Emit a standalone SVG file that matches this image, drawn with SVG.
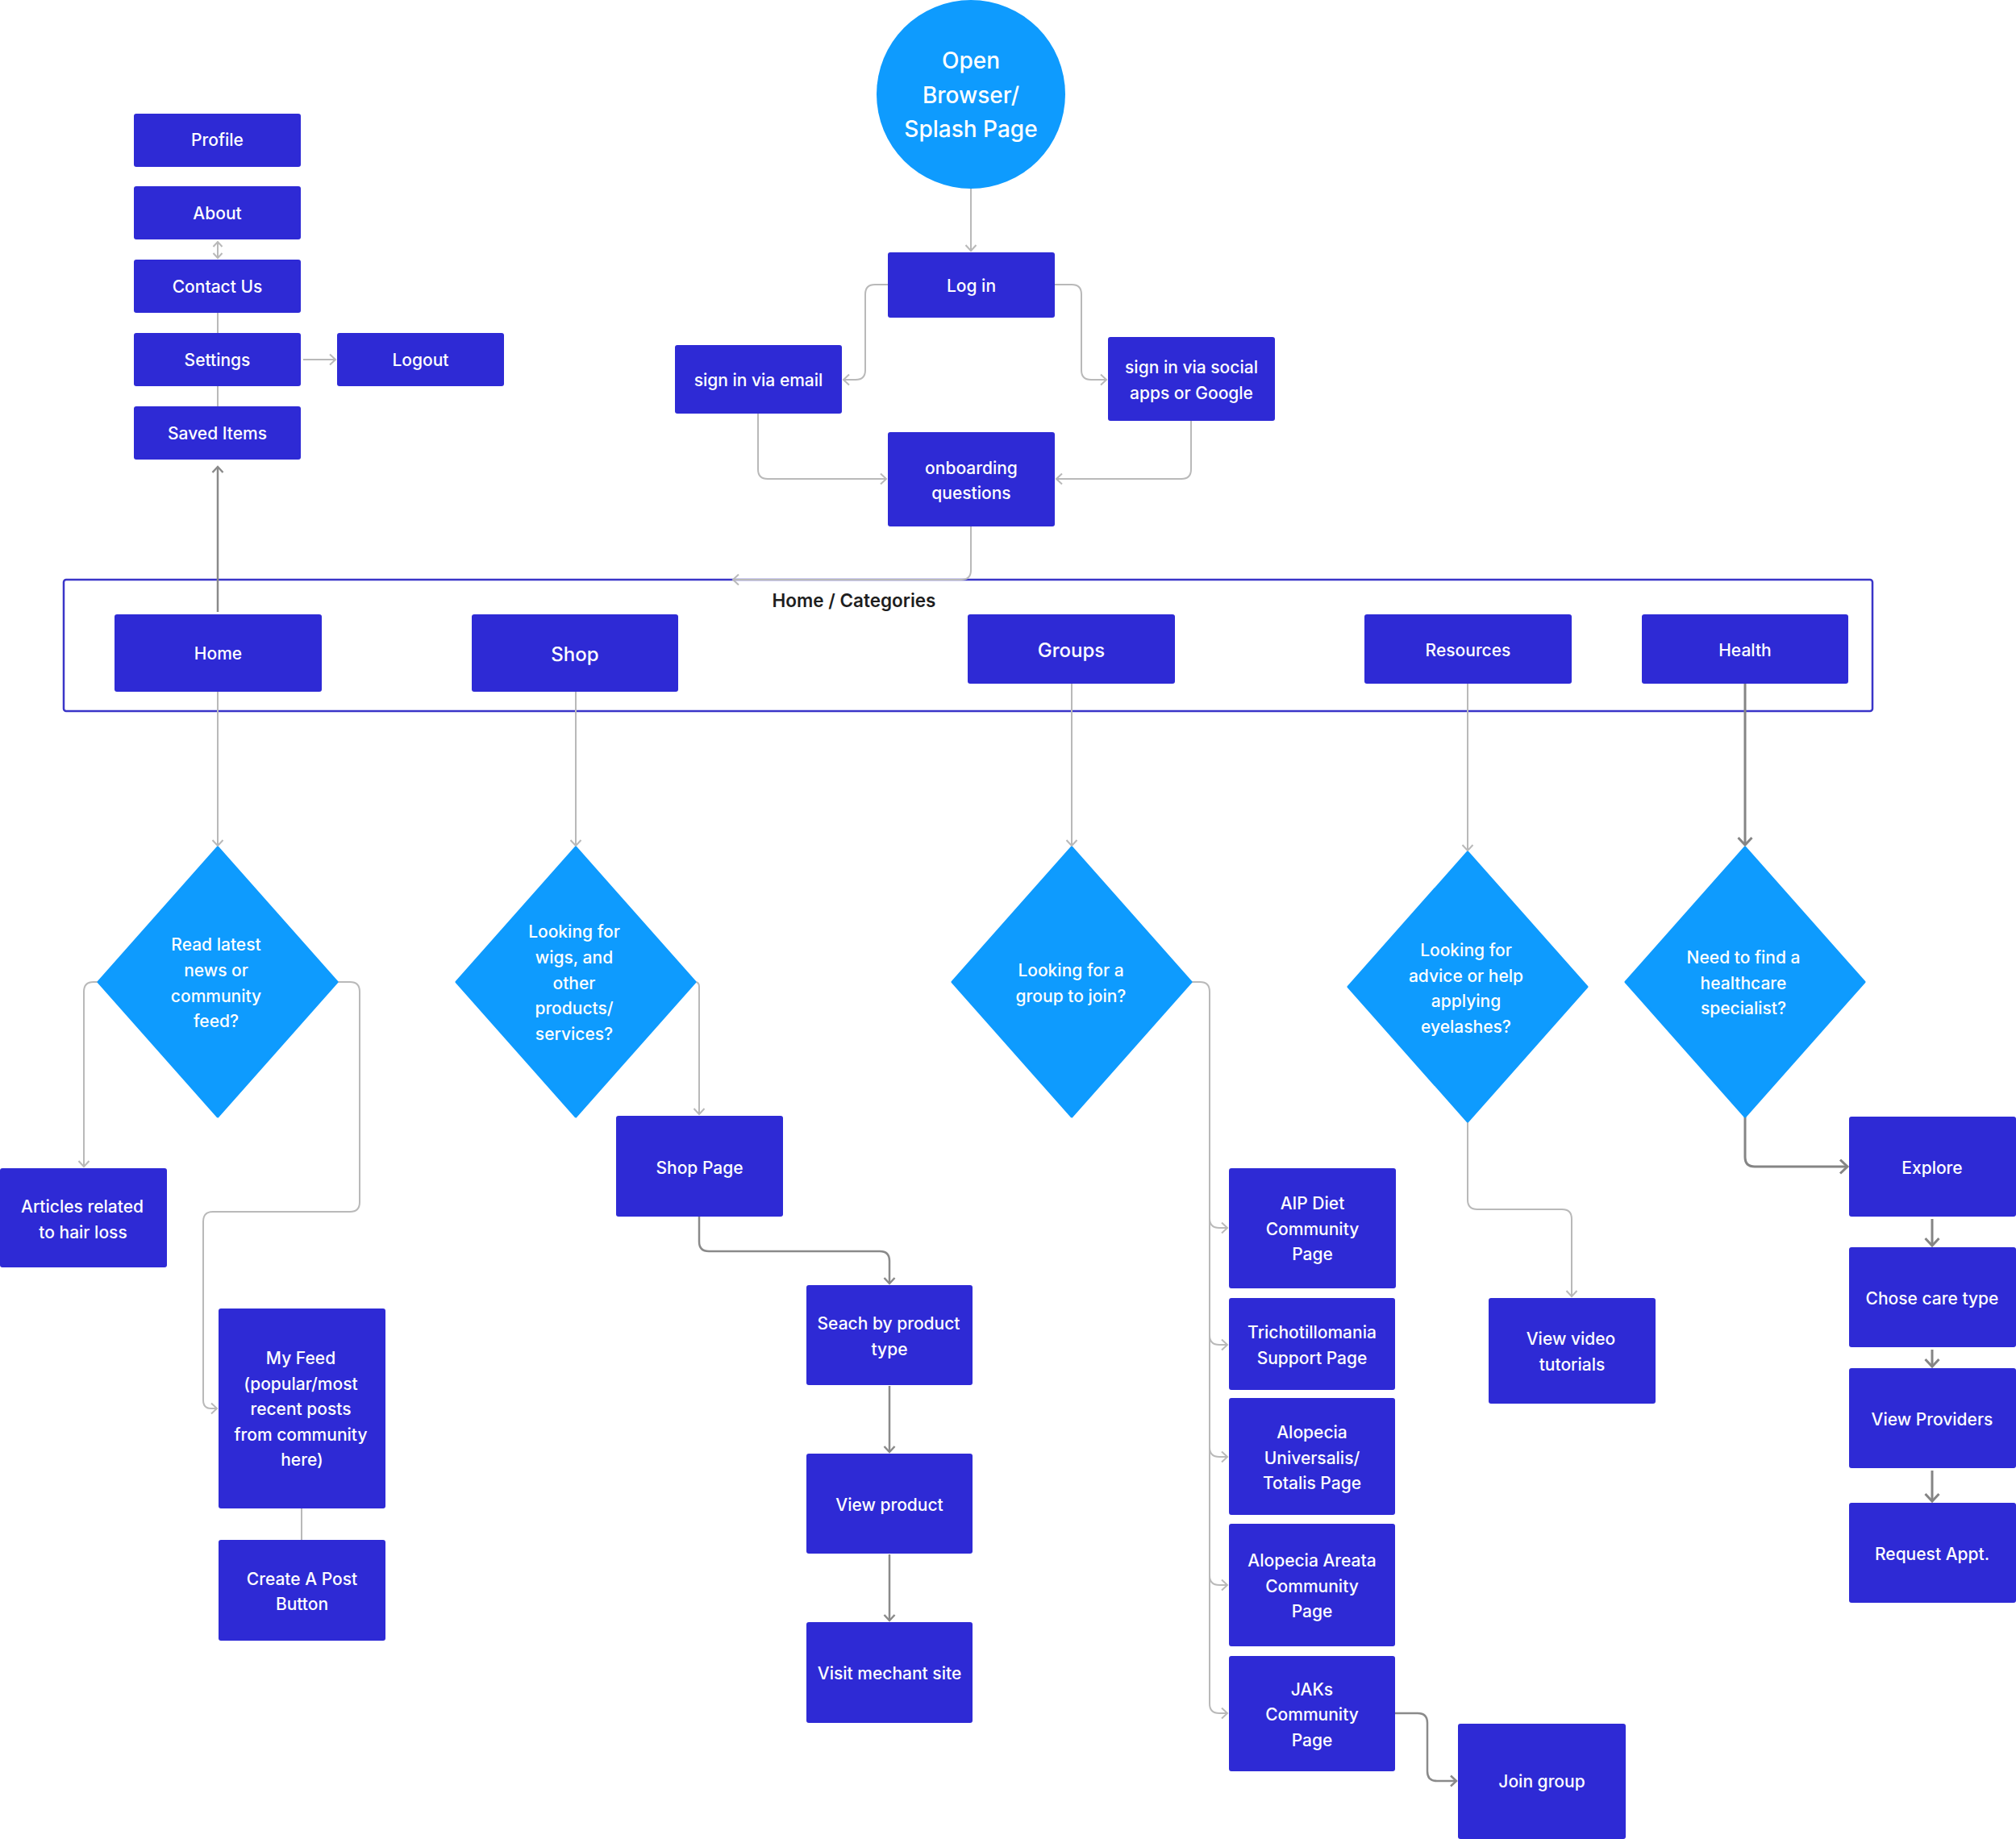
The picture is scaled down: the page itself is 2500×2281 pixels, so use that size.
<svg xmlns="http://www.w3.org/2000/svg" width="2500" height="2281" viewBox="0 0 2500 2281">
<style>
.box{fill:#2E2AD5;}
.dia{fill:#0E9BFE;}
.t{font-family:Inter,"Noto Sans","Liberation Sans",sans-serif;font-size:21px;font-weight:500;fill:#ffffff;text-anchor:middle;}
.t24{font-size:24px;}
.t28{font-size:28px;}
.dark{fill:#1E1E1E;font-size:22.5px;font-weight:600;}
.cl{fill:none;stroke:#B9B9B9;stroke-width:2;}
.cd{fill:none;stroke:#8A8A8A;stroke-width:2.5;}
.cdd{fill:none;stroke:#858585;stroke-width:3;}
.al{marker-end:url(#al);}
.ad{marker-end:url(#ad);}
.add{marker-end:url(#add);}
</style>
<defs>
<marker id="al" viewBox="-10 -8 12 16" markerWidth="12" markerHeight="16" refX="0" refY="0" orient="auto" markerUnits="userSpaceOnUse" overflow="visible">
<path d="M-7,-6.5 L0,0 L-7,6.5" fill="none" stroke="#B9B9B9" stroke-width="2"/>
</marker>
<marker id="als" viewBox="-10 -8 12 16" markerWidth="12" markerHeight="16" refX="0" refY="0" orient="auto-start-reverse" markerUnits="userSpaceOnUse" overflow="visible">
<path d="M-6,-5.5 L0,0 L-6,5.5" fill="none" stroke="#B9B9B9" stroke-width="2"/>
</marker>
<marker id="ad" viewBox="-10 -8 12 16" markerWidth="12" markerHeight="16" refX="0" refY="0" orient="auto" markerUnits="userSpaceOnUse" overflow="visible">
<path d="M-7,-6.5 L0,0 L-7,6.5" fill="none" stroke="#8A8A8A" stroke-width="2.5"/>
</marker>
<marker id="add" viewBox="-12 -10 14 20" markerWidth="14" markerHeight="20" refX="0" refY="0" orient="auto" markerUnits="userSpaceOnUse" overflow="visible">
<path d="M-9,-8.5 L0,0 L-9,8.5" fill="none" stroke="#858585" stroke-width="3"/>
</marker>
</defs>
<rect x="0" y="0" width="2500" height="2281" fill="#ffffff"/>

<g id="container">
<rect x="79" y="719" width="2243" height="163" rx="3" fill="none" stroke="#3A35C8" stroke-width="2.5"/>
<text class="t dark" x="1059" y="753">Home / Categories</text>
</g>

<g id="connectors">
<path class="cl al" d="M1204,234 V311"/>
<path class="cl al" d="M1101,353 H1085 Q1073,353 1073,365 V459 Q1073,471 1061,471 H1046"/>
<path class="cl al" d="M1308,353 H1329 Q1341,353 1341,365 V459 Q1341,471 1353,471 H1372"/>
<path class="cl al" d="M940,513 V582 Q940,594 952,594 H1099"/>
<path class="cl al" d="M1477,522 V582 Q1477,594 1465,594 H1310"/>
<path class="cl al" d="M1204,653 V707 Q1204,719 1192,719 H909"/>
<path class="cl" d="M270,300 V320" marker-start="url(#als)" marker-end="url(#als)"/>
<path class="cl" d="M270,388 V413"/>
<path class="cl" d="M270,479 V504"/>
<path class="cl al" d="M376,446 H416"/>
<path class="cd ad" d="M270,759 V579"/>
<path class="cl al" d="M270,858 V1049"/>
<path class="cl al" d="M714,858 V1049"/>
<path class="cl al" d="M1329,848 V1049"/>
<path class="cl al" d="M1820,848 V1055"/>
<path class="cdd add" d="M2164,848 V1048"/>
<path class="cl al" d="M122,1218 H116 Q104,1218 104,1230 V1447"/>
<path class="cl al" d="M418,1218 H434 Q446,1218 446,1230 V1491 Q446,1503 434,1503 H264 Q252,1503 252,1515 V1737 Q252,1747 262,1747 H269"/>
<path class="cl" d="M374,1871 V1910"/>
<path class="cl al" d="M862,1218 Q867,1218 867,1224 V1382"/>
<path class="cd ad" d="M867,1509 V1540 Q867,1552 879,1552 H1091 Q1103,1552 1103,1564 V1592"/>
<path class="cd ad" d="M1103,1719 V1801"/>
<path class="cd ad" d="M1103,1928 V2010"/>
<path class="cl al" d="M1477,1218 H1488 Q1500,1218 1500,1230 V2113 Q1500,2125 1512,2125 H1522"/>
<path class="cl al" d="M1500,1511 Q1500,1523 1512,1523 H1522"/>
<path class="cl al" d="M1500,1656 Q1500,1668 1512,1668 H1522"/>
<path class="cl al" d="M1500,1795 Q1500,1807 1512,1807 H1522"/>
<path class="cl al" d="M1500,1954 Q1500,1966 1512,1966 H1522"/>
<path class="cd ad" d="M1730,2125 H1758 Q1770,2125 1770,2137 V2197 Q1770,2209 1782,2209 H1806"/>
<path class="cl al" d="M1820,1391 V1488 Q1820,1500 1832,1500 H1937 Q1949,1500 1949,1512 V1608"/>
<path class="cdd add" d="M2164,1385 V1435 Q2164,1447 2176,1447 H2291"/>
<path class="cdd add" d="M2396,1512 V1545"/>
<path class="cdd add" d="M2396,1674 V1695"/>
<path class="cdd add" d="M2396,1824 V1862"/>
</g>

<g id="splash">
<circle cx="1204" cy="117" r="117" fill="#0E9BFE"/>
<text class="t t28" x="1204"><tspan x="1204" y="85">Open</tspan><tspan x="1204" y="128">Browser/</tspan><tspan x="1204" y="170">Splash Page</tspan></text>
</g>

<g id="profile"><rect class="box" x="166" y="141" width="207" height="66" rx="3"/><text class="t" x="269.5" y="181">Profile</text></g>
<g id="about"><rect class="box" x="166" y="231" width="207" height="66" rx="3"/><text class="t" x="269.5" y="272">About</text></g>
<g id="contact"><rect class="box" x="166" y="322" width="207" height="66" rx="3"/><text class="t" x="269.5" y="363">Contact Us</text></g>
<g id="settings"><rect class="box" x="166" y="413" width="207" height="66" rx="3"/><text class="t" x="269.5" y="454">Settings</text></g>
<g id="saved"><rect class="box" x="166" y="504" width="207" height="66" rx="3"/><text class="t" x="269.5" y="545">Saved Items</text></g>
<g id="logout"><rect class="box" x="418" y="413" width="207" height="66" rx="3"/><text class="t" x="521.5" y="454">Logout</text></g>

<g id="login"><rect class="box" x="1101" y="313" width="207" height="81" rx="3"/><text class="t" x="1204.5" y="361.5">Log in</text></g>
<g id="email"><rect class="box" x="837" y="428" width="207" height="85" rx="3"/><text class="t" x="940.5" y="478.5">sign in via email</text></g>
<g id="social"><rect class="box" x="1374" y="418" width="207" height="104" rx="3"/><text class="t"><tspan x="1477.5" y="462.5">sign in via social</tspan><tspan x="1477.5" y="494.5">apps or Google</tspan></text></g>
<g id="onboarding"><rect class="box" x="1101" y="536" width="207" height="117" rx="3"/><text class="t"><tspan x="1204.5" y="587.5">onboarding</tspan><tspan x="1204.5" y="618.5">questions</tspan></text></g>

<g id="home"><rect class="box" x="142" y="762" width="257" height="96" rx="3"/><text class="t" x="270.5" y="818">Home</text></g>
<g id="shop"><rect class="box" x="585" y="762" width="256" height="96" rx="3"/><text class="t t24" x="713" y="819.6">Shop</text></g>
<g id="groups"><rect class="box" x="1200" y="762" width="257" height="86" rx="3"/><text class="t t24" x="1328.5" y="815">Groups</text></g>
<g id="resources"><rect class="box" x="1692" y="762" width="257" height="86" rx="3"/><text class="t" x="1820.5" y="814">Resources</text></g>
<g id="health"><rect class="box" x="2036" y="762" width="256" height="86" rx="3"/><text class="t" x="2164" y="814">Health</text></g>

<g id="d-home"><path class="dia" d="M270,1051 L418,1218 L270,1385 L122,1218 Z" stroke="#0E9BFE" stroke-width="3" stroke-linejoin="round"/>
<text class="t"><tspan x="268" y="1178.6">Read latest</tspan><tspan x="268" y="1210.6">news or</tspan><tspan x="268" y="1242.6">community</tspan><tspan x="268" y="1273.6">feed?</tspan></text></g>
<g id="d-shop"><path class="dia" d="M714,1051 L862,1218 L714,1385 L566,1218 Z" stroke="#0E9BFE" stroke-width="3" stroke-linejoin="round"/>
<text class="t"><tspan x="712" y="1162.6">Looking for</tspan><tspan x="712" y="1194.6">wigs, and</tspan><tspan x="712" y="1226.6">other</tspan><tspan x="712" y="1257.6">products/</tspan><tspan x="712" y="1289.6">services?</tspan></text></g>
<g id="d-groups"><path class="dia" d="M1329,1051 L1477,1218 L1329,1385 L1181,1218 Z" stroke="#0E9BFE" stroke-width="3" stroke-linejoin="round"/>
<text class="t"><tspan x="1328" y="1210.6">Looking for a</tspan><tspan x="1328" y="1242.6">group to join?</tspan></text></g>
<g id="d-resources"><path class="dia" d="M1820,1057 L1968,1224 L1820,1391 L1672,1224 Z" stroke="#0E9BFE" stroke-width="3" stroke-linejoin="round"/>
<text class="t"><tspan x="1818" y="1185.6">Looking for</tspan><tspan x="1818" y="1217.6">advice or help</tspan><tspan x="1818" y="1248.6">applying</tspan><tspan x="1818" y="1280.6">eyelashes?</tspan></text></g>
<g id="d-health"><path class="dia" d="M2164,1051 L2312,1218 L2164,1385 L2016,1218 Z" stroke="#0E9BFE" stroke-width="3" stroke-linejoin="round"/>
<text class="t"><tspan x="2162" y="1194.6">Need to find a</tspan><tspan x="2162" y="1226.6">healthcare</tspan><tspan x="2162" y="1257.6">specialist?</tspan></text></g>

<g id="articles"><rect class="box" x="0" y="1449" width="207" height="123" rx="3"/><text class="t"><tspan x="102" y="1503.6">Articles related</tspan><tspan x="103" y="1535.6">to hair loss</tspan></text></g>
<g id="myfeed"><rect class="box" x="271" y="1623" width="207" height="248" rx="3"/><text class="t"><tspan x="373" y="1691.6">My Feed</tspan><tspan x="373" y="1723.6">(popular/most</tspan><tspan x="373" y="1754.6">recent posts</tspan><tspan x="373" y="1786.6">from community</tspan><tspan x="374.5" y="1817.6">here)</tspan></text></g>
<g id="createpost"><rect class="box" x="271" y="1910" width="207" height="125" rx="3"/><text class="t"><tspan x="374.5" y="1965.6">Create A Post</tspan><tspan x="374.5" y="1996.6">Button</tspan></text></g>

<g id="shoppage"><rect class="box" x="764" y="1384" width="207" height="125" rx="3"/><text class="t" x="867.5" y="1455.6">Shop Page</text></g>
<g id="search"><rect class="box" x="1000" y="1594" width="206" height="124" rx="3"/><text class="t"><tspan x="1102" y="1648.6">Seach by product</tspan><tspan x="1103" y="1680.6">type</tspan></text></g>
<g id="viewproduct"><rect class="box" x="1000" y="1803" width="206" height="124" rx="3"/><text class="t" x="1103" y="1873.6">View product</text></g>
<g id="visit"><rect class="box" x="1000" y="2012" width="206" height="125" rx="3"/><text class="t" x="1103" y="2082.6">Visit mechant site</text></g>

<g id="aip"><rect class="box" x="1524" y="1449" width="207" height="149" rx="3"/><text class="t"><tspan x="1627.5" y="1499.6">AIP Diet</tspan><tspan x="1627.5" y="1531.6">Community</tspan><tspan x="1627.5" y="1562.6">Page</tspan></text></g>
<g id="tricho"><rect class="box" x="1524" y="1610" width="206" height="114" rx="3"/><text class="t"><tspan x="1627" y="1659.6">Trichotillomania</tspan><tspan x="1627" y="1691.6">Support Page</tspan></text></g>
<g id="au"><rect class="box" x="1524" y="1734" width="206" height="145" rx="3"/><text class="t"><tspan x="1627" y="1783.6">Alopecia</tspan><tspan x="1627" y="1815.6">Universalis/</tspan><tspan x="1627" y="1846.6">Totalis Page</tspan></text></g>
<g id="aa"><rect class="box" x="1524" y="1890" width="206" height="152" rx="3"/><text class="t"><tspan x="1627" y="1942.6">Alopecia Areata</tspan><tspan x="1627" y="1974.6">Community</tspan><tspan x="1627" y="2005.6">Page</tspan></text></g>
<g id="jaks"><rect class="box" x="1524" y="2054" width="206" height="143" rx="3"/><text class="t"><tspan x="1627" y="2102.6">JAKs</tspan><tspan x="1627" y="2133.6">Community</tspan><tspan x="1627" y="2165.6">Page</tspan></text></g>
<g id="join"><rect class="box" x="1808" y="2138" width="208" height="143" rx="3"/><text class="t" x="1912" y="2216.6">Join group</text></g>

<g id="video"><rect class="box" x="1846" y="1610" width="207" height="131" rx="3"/><text class="t"><tspan x="1948" y="1667.6">View video</tspan><tspan x="1949.5" y="1699.6">tutorials</tspan></text></g>

<g id="explore"><rect class="box" x="2293" y="1385" width="207" height="124" rx="3"/><text class="t" x="2396" y="1455.6">Explore</text></g>
<g id="caretype"><rect class="box" x="2293" y="1547" width="207" height="124" rx="3"/><text class="t" x="2396" y="1617.6">Chose care type</text></g>
<g id="providers"><rect class="box" x="2293" y="1697" width="207" height="124" rx="3"/><text class="t" x="2396" y="1767.6">View Providers</text></g>
<g id="request"><rect class="box" x="2293" y="1864" width="207" height="124" rx="3"/><text class="t" x="2396" y="1934.6">Request Appt.</text></g>
</svg>
